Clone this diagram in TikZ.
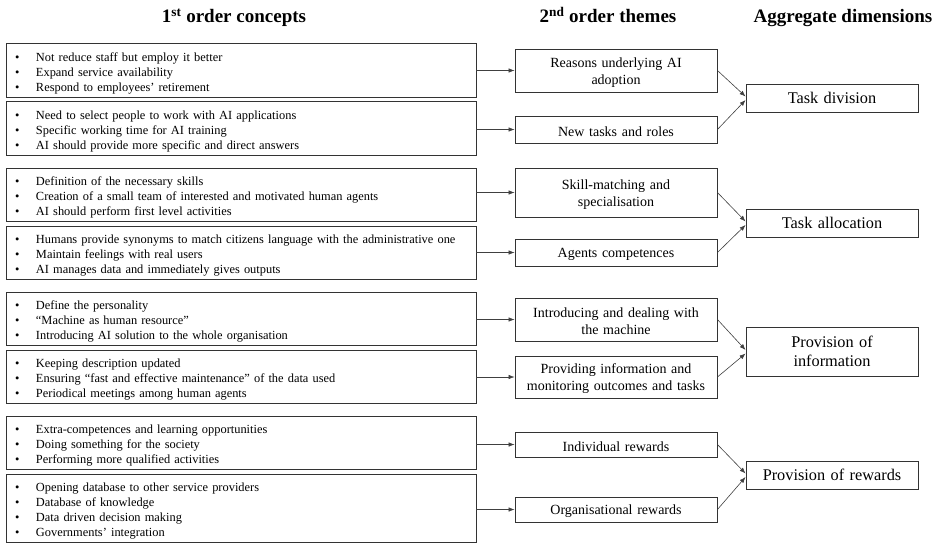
\documentclass[tikz,border=0pt]{standalone}
\usepackage{fontspec}
\setmainfont{Liberation Serif}
\usetikzlibrary{arrows.meta}
\newcommand{\bul}{\makebox[21pt][l]{\textbullet}}
\tikzset{
    concept/.style={rectangle,draw=black!80,line width=0.9pt,minimum width=470pt,minimum height=53pt,
        text width=452pt,inner xsep=9pt,align=left,font=\fontsize{12.4}{15}\selectfont,
        execute at begin node={\rule{0pt}{14.5pt}}},
    theme/.style={rectangle,draw=black!80,line width=0.9pt,minimum width=202pt,minimum height=27pt,
        text width=194pt,inner xsep=4pt,align=center,font=\fontsize{14}{17}\selectfont,
        execute at begin node={\rule{0pt}{13.6pt}}},
    dimension/.style={rectangle,draw=black!80,line width=0.9pt,minimum width=172pt,minimum height=28pt,
        text width=164pt,inner xsep=4pt,align=center,font=\fontsize{16.3}{19}\selectfont},
    heading/.style={anchor=base,font=\fontsize{19}{22}\selectfont\bfseries},
    arr/.style={->,>={Latex[length=6pt,width=4.5pt]}, draw=black!75, line width=0.6pt},
}
\begin{document}
\begin{tikzpicture}[x=1pt,y=-1pt]
    \useasboundingbox (0,0) rectangle (941,543);
    \node[heading] (h1) at (234,23) {1\textsuperscript{st} order concepts};
    \node[heading] (h2) at (608,23) {2\textsuperscript{nd} order themes};
    \node[heading] (h3) at (843,23) {Aggregate dimensions};
    \node[concept] (c1) at (241,70.5) {\bul Not reduce staff but employ it better\\\bul Expand service availability\\\bul Respond to employees’ retirement};
    \node[concept] (c2) at (241,128.5) {\bul Need to select people to work with AI applications\\\bul Specific working time for AI training\\\bul AI should provide more specific and direct answers};
    \node[concept] (c3) at (241,195) {\bul Definition of the necessary skills\\\bul Creation of a small team of interested and motivated human agents\\\bul AI should perform first level activities};
    \node[concept] (c4) at (241,253) {\bul Humans provide synonyms to match citizens language with the administrative one\\\bul Maintain feelings with real users\\\bul AI manages data and immediately gives outputs};
    \node[concept] (c5) at (241,319) {\bul Define the personality\\\bul “Machine as human resource”\\\bul Introducing AI solution to the whole organisation};
    \node[concept] (c6) at (241,377) {\bul Keeping description updated\\\bul Ensuring “fast and effective maintenance” of the data used\\\bul Periodical meetings among human agents};
    \node[concept] (c7) at (241,443) {\bul Extra-competences and learning opportunities\\\bul Doing something for the society\\\bul Performing more qualified activities};
    \node[concept,minimum height=67pt] (c8) at (241,508.5) {\bul Opening database to other service providers\\\bul Database of knowledge\\\bul Data driven decision making\\\bul Governments’ integration};
    \node[theme,minimum height=43pt] (t1) at (616,70.5) {Reasons underlying AI\\adoption};
    \node[theme] (t2) at (616,129.5) {New tasks and roles};
    \node[theme,minimum height=49pt] (t3) at (616,192.5) {Skill-matching and\\specialisation};
    \node[theme] (t4) at (616,252.5) {Agents competences};
    \node[theme,minimum height=43pt] (t5) at (616,319.5) {Introducing and dealing with\\the machine};
    \node[theme,minimum height=42pt] (t6) at (616,377) {Providing information and\\monitoring outcomes and tasks};
    \node[theme,minimum height=25pt] (t7) at (616,444.5) {Individual rewards};
    \node[theme,minimum height=25pt] (t8) at (616,509.5) {Organisational rewards};
    \node[dimension] (d1) at (832,98) {Task division};
    \node[dimension] (d2) at (832,223) {Task allocation};
    \node[dimension,minimum height=49pt] (d3) at (832,351.5) {Provision of\\information};
    \node[dimension] (d4) at (832,475) {Provision of rewards};
    \foreach \i in {1,...,8}
        \draw[arr] (c\i.east |- t\i.west) -- (t\i.west);
    \draw[arr] (t1.east) -- ([yshift=1.5pt]d1.west);
    \draw[arr] (t2.east) -- ([yshift=-2pt]d1.west);
    \draw[arr] (t3.east) -- ([yshift=1.5pt]d2.west);
    \draw[arr] (t4.east) -- ([yshift=-2pt]d2.west);
    \draw[arr] (t5.east) -- ([yshift=1.5pt]d3.west);
    \draw[arr] (t6.east) -- ([yshift=-2pt]d3.west);
    \draw[arr] (t7.east) -- ([yshift=1.5pt]d4.west);
    \draw[arr] (t8.east) -- ([yshift=-2pt]d4.west);
\end{tikzpicture}
\end{document}
